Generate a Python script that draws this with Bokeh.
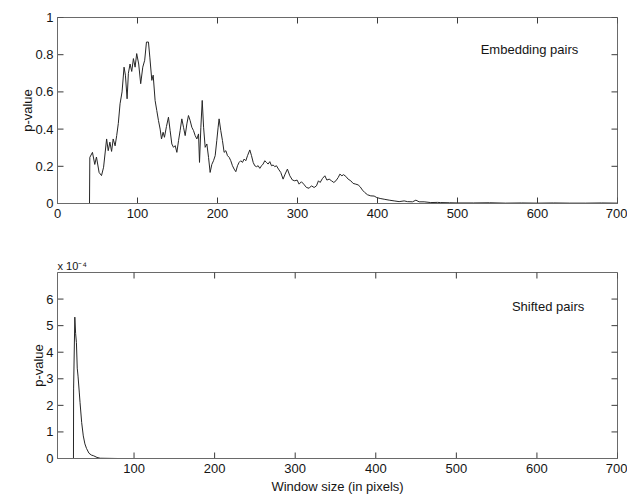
import math
from bokeh.plotting import figure
from bokeh.layouts import column
from bokeh.models import Range1d, FixedTicker, Label, CustomJSTickFormatter
from bokeh.embed import file_html
from bokeh.resources import INLINE

FONT = "Liberation Sans"
INK = "#151515"
FRAME = "#6a6a6a"
TICK = "#3a3a3a"
LINE = "#262626"

# p-value of embedding pairs versus window size (pixels)
emb_x = [40.0, 40.4, 43.7, 46.6, 48.7, 52.0, 55.0, 57.6, 61.4, 63.4, 65.5, 67.6,
         69.6, 72.0, 74.0, 76.0, 78.2, 80.7, 83.2, 84.9, 87.0, 88.6, 90.7, 92.8,
         94.9, 97.0, 99.0, 101.5, 104.0, 106.6, 109.0, 111.2, 113.7, 115.4, 117.9,
         119.6, 122.0, 124.1, 126.2, 128.3, 130.0, 132.0, 133.7, 136.2, 138.7,
         140.8, 142.9, 145.0, 147.1, 149.2, 151.3, 153.3, 155.4, 157.5, 159.6,
         161.7, 163.7, 165.8, 167.9, 170.0, 172.1, 174.2, 176.3, 177.5, 179.2,
         180.9, 182.6, 184.6, 186.7, 188.8, 190.8, 192.9, 195.0, 197.1, 199.1,
         200.8, 202.0, 204.1, 206.2, 208.3, 210.4, 212.5, 214.6, 216.6, 218.7,
         220.8, 222.9, 225.0, 227.0, 229.1, 231.2, 233.3, 235.4, 237.5, 240.4,
         242.5, 244.6, 246.6, 248.7, 250.8, 252.9, 255.0, 257.0, 259.1, 261.2,
         263.3, 265.4, 267.5, 269.6, 271.6, 273.7, 276.2, 279.1, 282.0, 284.5,
         287.4, 290.4, 293.7, 296.6, 299.5, 302.0, 304.9, 307.8, 311.2, 314.5,
         317.4, 320.8, 323.7, 326.2, 328.3, 331.3, 334.2, 336.7, 339.6, 342.5,
         345.4, 348.0, 350.9, 353.0, 355.5, 357.5, 360.4, 363.3, 366.6, 369.5,
         372.9, 375.8, 378.3, 381.2, 384.1, 387.5, 391.6, 395.8, 399.1, 403.3,
         408.3, 414.6, 420.8, 427.0, 433.3, 437.5, 443.8, 448.0, 452.0, 458.3,
         466.6, 475.0, 479.0, 490.0, 500.0, 520.0, 540.0, 560.0, 580.0, 600.0,
         620.0, 640.0, 660.0, 680.0, 700.0]
emb_p = [0.0, 0.248, 0.275, 0.21, 0.25, 0.167, 0.15, 0.195, 0.347, 0.284, 0.33, 0.28,
         0.347, 0.31, 0.365, 0.43, 0.536, 0.6, 0.733, 0.69, 0.563, 0.7, 0.75, 0.71,
         0.779, 0.733, 0.806, 0.75, 0.644, 0.733, 0.77, 0.868, 0.868, 0.787, 0.662,
         0.69, 0.554, 0.5, 0.446, 0.4, 0.347, 0.383, 0.356, 0.414, 0.464,
         0.392, 0.32, 0.302, 0.311, 0.275, 0.338, 0.392, 0.455, 0.41, 0.365,
         0.428, 0.473, 0.446, 0.41, 0.392, 0.365, 0.347, 0.374, 0.221, 0.41,
         0.554, 0.41, 0.302, 0.32, 0.248, 0.167, 0.21, 0.23, 0.257, 0.338,
         0.41, 0.455, 0.392, 0.338, 0.275, 0.284, 0.257, 0.248, 0.23, 0.203,
         0.185, 0.171, 0.203, 0.221, 0.23, 0.221, 0.239, 0.23, 0.257, 0.288,
         0.257, 0.221, 0.203, 0.198, 0.203, 0.189, 0.203, 0.212, 0.23, 0.221,
         0.212, 0.225, 0.203, 0.207, 0.198, 0.203, 0.185, 0.167, 0.131, 0.158,
         0.185, 0.149, 0.126, 0.122, 0.126, 0.104, 0.117, 0.104, 0.086, 0.082,
         0.095, 0.086, 0.095, 0.122, 0.113, 0.135, 0.149, 0.126, 0.131, 0.122,
         0.113, 0.122, 0.14, 0.158, 0.149, 0.155, 0.146, 0.131, 0.122, 0.108,
         0.104, 0.1, 0.09, 0.072, 0.059, 0.047, 0.041, 0.04, 0.032, 0.027,
         0.023, 0.018, 0.014, 0.01, 0.014, 0.01, 0.009, 0.018, 0.009, 0.009,
         0.005, 0.006, 0.005, 0.004, 0.003, 0.003, 0.004, 0.002, 0.003, 0.002,
         0.003, 0.002, 0.002, 0.003, 0.002]

# p-value of shifted pairs versus window size (pixels); NaN marks a gap
NAN = float("nan")
shift_x = [24.8, 25.0, 26.5, 27.5, 28.5, 29.5, 30.5, 32.0, 33.0, 35.0, 37.0, 39.0,
           41.0, 44.0, 47.0, 50.0, 54.0, 58.0, 80.0, 100.0, 120.0, 140.0, 160.0,
           175.0, 190.0, 200.0, 210.0]
shift_p = [0.0, 2.65e-4, 5.32e-4, 4.7e-4, 4.36e-4, 3.4e-4, 3.1e-4, 2.5e-4, 2.1e-4,
           1.35e-4, 0.85e-4, 0.55e-4, 0.38e-4, 0.2e-4, 0.13e-4, 0.1e-4, 0.04e-4,
           0.01e-4, 0.0, 0.0, 0.0, 0.0, 0.0, NAN, 0.0, 0.0, 0.0]

top_xticks = [0, 100, 200, 300, 400, 500, 600, 700]
top_yticks = [0, 0.2, 0.4, 0.6, 0.8, 1.0]
bot_xticks = [100, 200, 300, 400, 500, 600, 700]
bot_yticks = [0, 1e-4, 2e-4, 3e-4, 4e-4, 5e-4, 6e-4]


def dress(p, xticks, yticks, yfmt):
    """Boxed axes with tick marks pointing inward on all four edges."""
    p.outline_line_color = FRAME
    p.outline_line_width = 1
    p.xgrid.visible = False
    p.ygrid.visible = False
    xa, ya = p.below[0], p.left[0]
    for ax in (xa, ya):
        ax.axis_line_color = FRAME
        ax.major_tick_line_color = None
        ax.minor_tick_line_color = None
        ax.major_tick_in = 0
        ax.major_tick_out = 0
        ax.major_label_text_font = FONT
        ax.major_label_text_font_size = "13px"
        ax.major_label_text_color = INK
        ax.axis_label_text_font = FONT
        ax.axis_label_text_font_size = "13px"
        ax.axis_label_text_font_style = "normal"
        ax.axis_label_text_color = INK
    xa.ticker = FixedTicker(ticks=xticks)
    ya.ticker = FixedTicker(ticks=yticks)
    ya.formatter = yfmt
    xa.major_label_standoff = 5
    ya.major_label_standoff = 4
    # tick marks: dashes centred on each box edge, the frame clips the outer half
    x0, x1 = p.x_range.start, p.x_range.end
    y0, y1 = p.y_range.start, p.y_range.end
    nx, ny = len(xticks), len(yticks)
    p.scatter(xticks + xticks, [y0] * nx + [y1] * nx,
              marker="dash", size=12, angle=math.pi / 2,
              line_color=TICK, line_width=1)
    p.scatter([x0] * ny + [x1] * ny, yticks + yticks,
              marker="dash", size=12, angle=0,
              line_color=TICK, line_width=1)
    return xa, ya


# upper panel
p1 = figure(width=627, height=236, output_backend="svg", toolbar_location=None,
            x_range=Range1d(0, 700), y_range=Range1d(0, 1),
            min_border_left=57, min_border_right=10, min_border_top=17,
            min_border_bottom=33)
p1.line(emb_x, emb_p, line_color=LINE, line_width=1)
xa1, ya1 = dress(p1, top_xticks, top_yticks,
                 CustomJSTickFormatter(code="return String(Number(tick.toFixed(2)));"))
ya1.axis_label = "p-value"
ya1.axis_label_standoff = -3
p1.add_layout(Label(x=529, y=0.83, text="Embedding pairs", text_font=FONT,
                    text_font_size="13px", text_color=INK,
                    text_baseline="alphabetic"))

# lower panel
p2 = figure(width=627, height=262, output_backend="svg", toolbar_location=None,
            x_range=Range1d(5, 700), y_range=Range1d(0, 7e-4),
            min_border_left=57, min_border_right=10, min_border_top=36,
            min_border_bottom=40,
            title="x 10\u207b\u2074")
p2.line(shift_x, shift_p, line_color=LINE, line_width=1)
xa2, ya2 = dress(p2, bot_xticks, bot_yticks,
                 CustomJSTickFormatter(code="return (tick*1e4).toFixed(0);"))
ya2.axis_label = "p-value"
ya2.axis_label_standoff = -3
xa2.axis_label = "Window size (in pixels)"
xa2.axis_label_standoff = 3
p2.title.text_font = FONT
p2.title.text_font_size = "11px"
p2.title.text_font_style = "normal"
p2.title.text_color = INK
p2.title.align = "left"
p2.title.standoff = 2
p2.add_layout(Label(x=569, y=5.73e-4, text="Shifted pairs", text_font=FONT,
                    text_font_size="13px", text_color=INK,
                    text_baseline="alphabetic"))

layout = column(p1, p2, spacing=0)
open("out.html", "w").write(file_html(layout, INLINE))
